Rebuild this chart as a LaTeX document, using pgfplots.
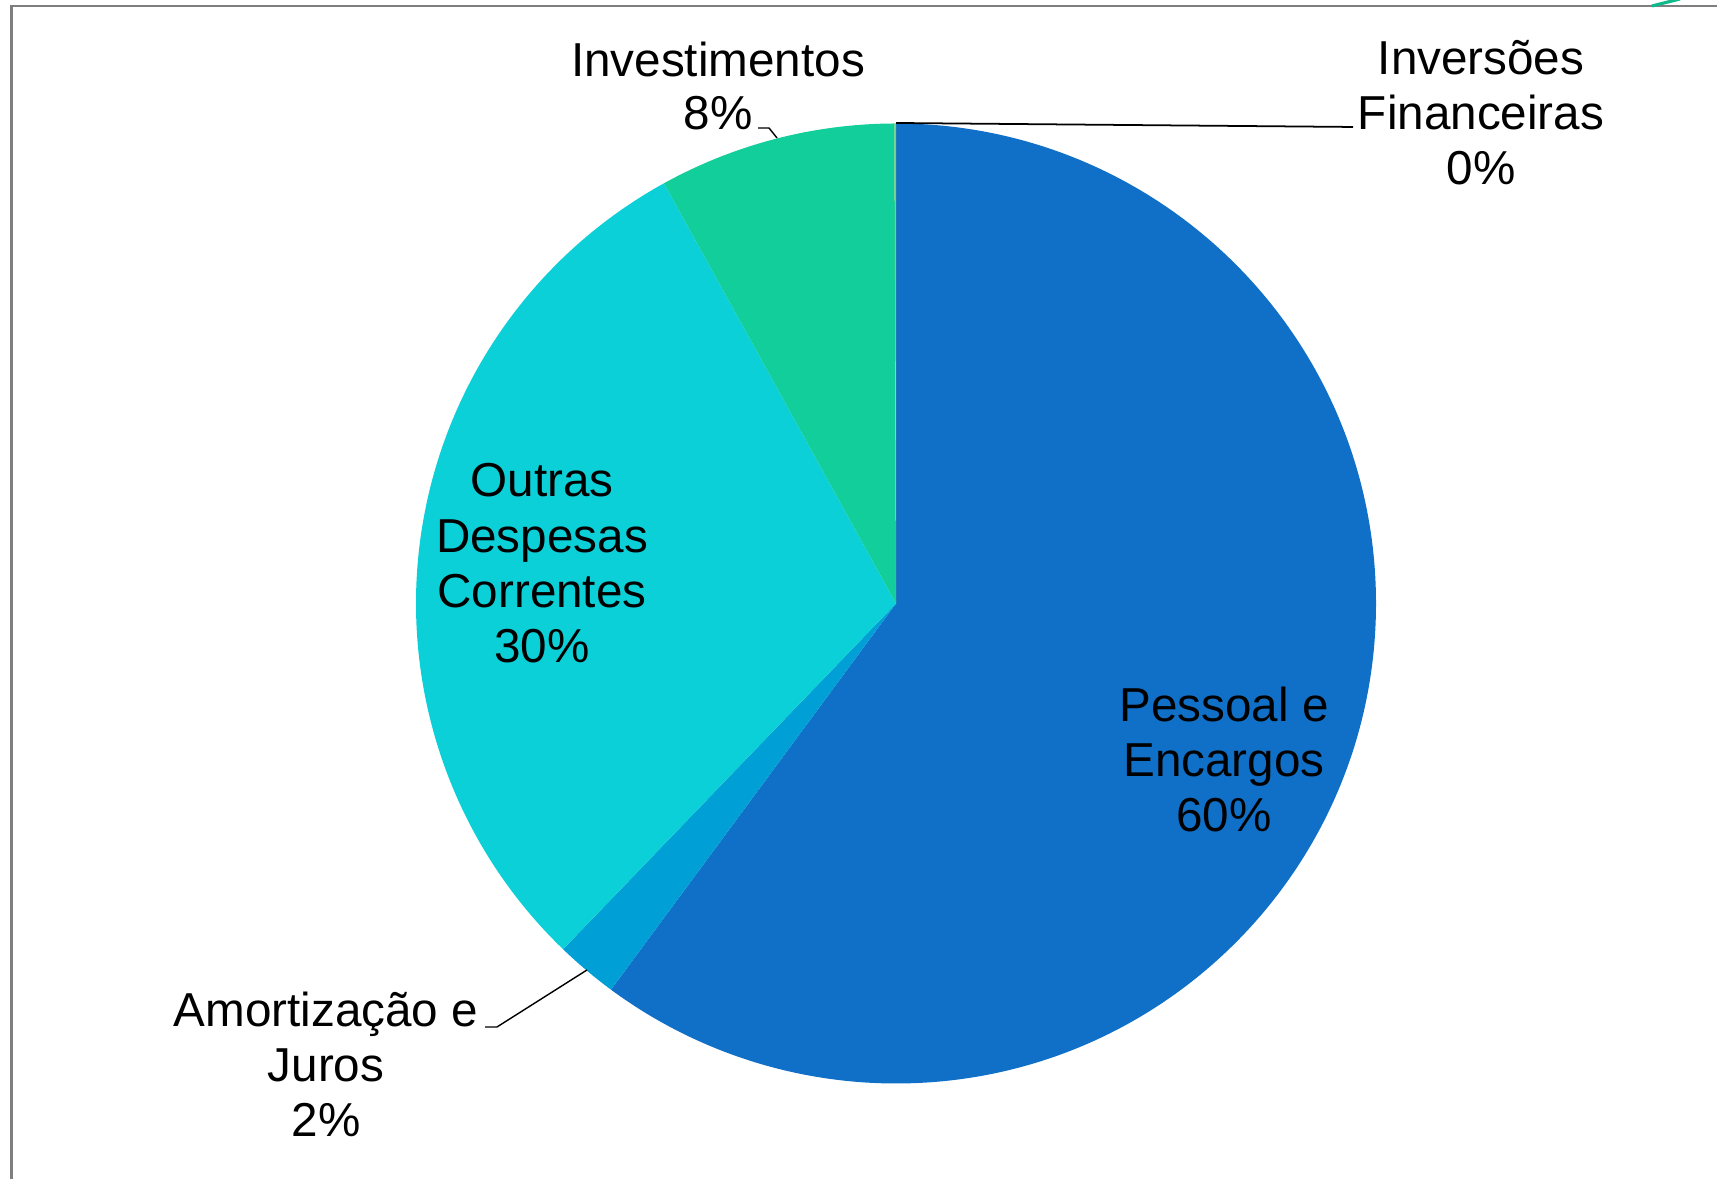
\documentclass[border=0pt]{standalone}
\usepackage{pgfplots}
\pgfplotsset{compat=1.18}
\usepackage{pgfplotstable}
\usepackage{fontspec}
\setmainfont{Liberation Sans}

\definecolor{slice0}{HTML}{1070C8}
\definecolor{slice1}{HTML}{00A0D6}
\definecolor{slice2}{HTML}{0CD0D8}
\definecolor{slice3}{HTML}{12CE9A}
\definecolor{slice4}{HTML}{9BC850}
\definecolor{frame}{HTML}{7F7F7F}

% share of each group, percent (clockwise from 12 o'clock)
\pgfplotstableread[col sep=comma]{
label,value
Pessoal,60.12
Amortizacao,2.08
Outras,29.77
Investimentos,7.98
Inversoes,0.05
}\piedata

\newcommand{\lbl}[3]{\node[anchor=base, inner sep=0pt, font=\fontsize{13.55}{15.65}\selectfont] at (axis cs:#1,#2) {#3};}

\begin{document}
\begin{tikzpicture}
% cumulative angles
\xdef\cum{90}
\foreach \i in {0,...,4}{
  \pgfplotstablegetelem{\i}{value}\of\piedata
  \pgfmathsetmacro\ea{\cum - 3.6*\pgfplotsretval}
  \expandafter\xdef\csname sa\i\endcsname{\cum}
  \expandafter\xdef\csname ea\i\endcsname{\ea}
  \xdef\cum{\ea}
}
\begin{axis}[
    hide axis,
    x=1cm, y=1cm,
    scale only axis,
    disabledatascaling,
    xmin=0, xmax=17.17,
    ymin=0, ymax=11.79,
    clip=false,
]
    \coordinate (bl) at (axis cs:0,0);
    \coordinate (tr) at (axis cs:17.17,11.79);

    % frame
    \draw[frame, line width=0.6pt] (axis cs:0.115,0) -- (axis cs:0.115,11.73) -- (axis cs:17.17,11.73);
    \draw[color=slice3!90!black, line width=0.9pt] (axis cs:16.52,11.73) -- (axis cs:16.80,11.80);

    % slices
    \pgfplotsinvokeforeach{0,...,4}{
      \fill[slice#1] (axis cs:8.96,5.755)
        -- (axis cs:{8.96+4.8*cos(\csname sa#1\endcsname)},{5.755+4.8*sin(\csname sa#1\endcsname)})
        arc[start angle=\csname sa#1\endcsname, end angle=\csname ea#1\endcsname, radius=4.8]
        -- cycle;
    }

    % leader lines
    \draw[black, line width=0.5pt] (axis cs:8.96,10.56) -- (axis cs:13.53,10.52);
    \draw[black, line width=0.4pt] (axis cs:7.58,10.51) -- (axis cs:7.69,10.51) -- (axis cs:7.77,10.41);
    \draw[black, line width=0.4pt] (axis cs:4.85,1.52) -- (axis cs:4.97,1.52) -- (axis cs:5.87,2.09);

    % labels
    \lbl{7.18}{11.02}{Investimentos}
    \lbl{7.18}{10.49}{8\%}

    \lbl{14.81}{11.04}{Inversões}
    \lbl{14.81}{10.49}{Financeiras}
    \lbl{14.81}{9.94}{0\%}

    \lbl{5.42}{6.823}{Outras}
    \lbl{5.42}{6.268}{Despesas}
    \lbl{5.42}{5.713}{Correntes}
    \lbl{5.42}{5.16}{30\%}

    \lbl{12.24}{4.573}{Pessoal e}
    \lbl{12.24}{4.023}{Encargos}
    \lbl{12.24}{3.473}{60\%}

    \lbl{3.26}{1.52}{Amortização e}
    \lbl{3.26}{0.97}{Juros}
    \lbl{3.26}{0.42}{2\%}
\end{axis}
\pgfresetboundingbox
\path[use as bounding box] (bl) rectangle (tr);
\end{tikzpicture}
\end{document}
